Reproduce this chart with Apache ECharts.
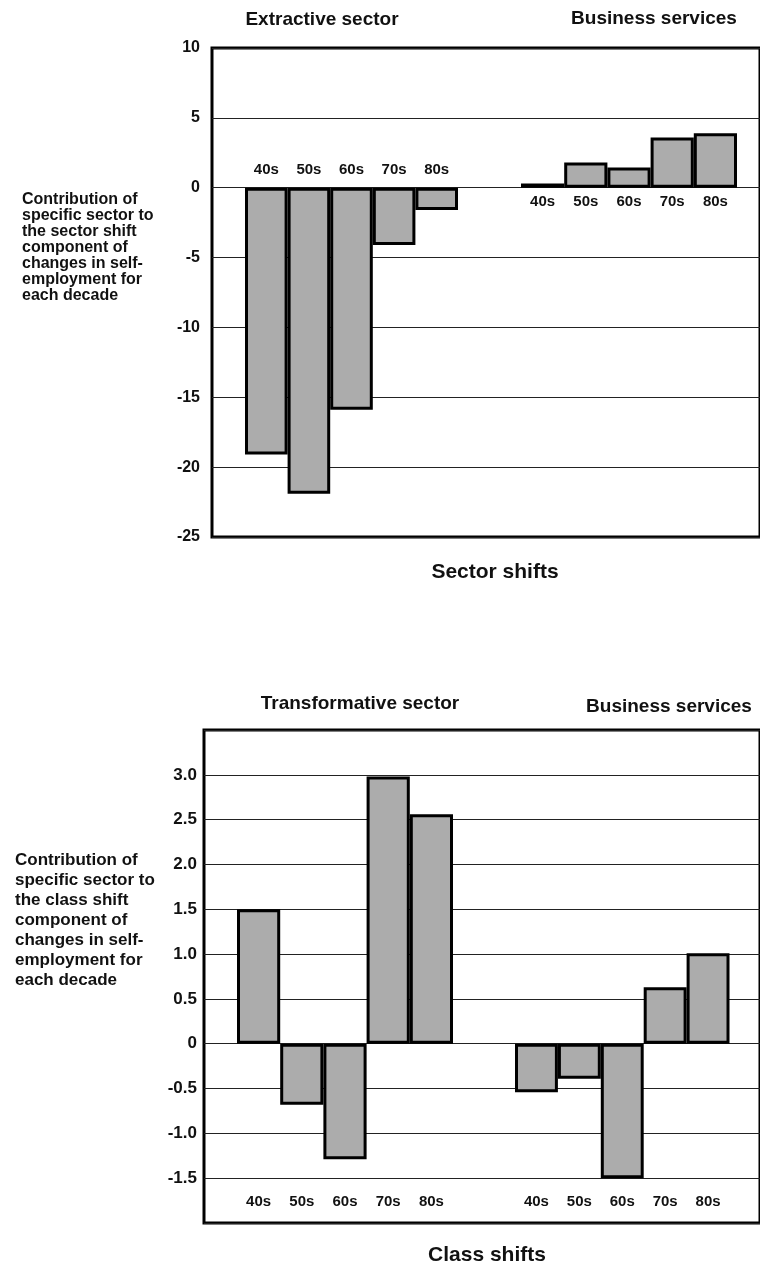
<!DOCTYPE html>
<html><head><meta charset="utf-8">
<script src="https://cdn.jsdelivr.net/npm/echarts@6/dist/echarts.min.js"></script>
<style>html,body{margin:0;padding:0;background:#fff}#c{width:760px;height:1265px}</style>
</head><body><div id="c"></div>
<script>
// ---- data ----
const decades = ['40s', '50s', '60s', '70s', '80s'];
const sectorExtractive = [-19.1, -21.9, -15.9, -4.1, -1.6];
const sectorBusiness = [0.3, 1.8, 1.45, 3.6, 3.9];
const classTransformative = [1.5, -0.68, -1.29, 2.98, 2.56];
const classBusiness = [-0.54, -0.39, -1.5, 0.63, 1.01];
const sectorMin = -25, sectorMax = 10, sectorStep = 5;
const classMin = -2, classMax = 3.5, classStep = 0.5;
const topTitles = ['Extractive sector', 'Business services'];
const bottomTitles = ['Transformative sector', 'Business services'];
const topYLabelText = ['Contribution of', 'specific sector to', 'the sector shift', 'component of', 'changes in self-', 'employment for', 'each decade'];
const bottomYLabelText = ['Contribution of', 'specific sector to', 'the class shift', 'component of', 'changes in self-', 'employment for', 'each decade'];

const FF = '"Liberation Sans", Arial, Helvetica, sans-serif';
const BAR_COLOR = '#acacac';

const chart = echarts.init(document.getElementById('c'), null, {renderer: 'canvas'});

// top panel geometry
const TOP_H = 489;
// distance (px) from grid top to the value-0 line, derived from the axis range
const zeroFromTop = TOP_H * sectorMax / (sectorMax - sectorMin);

function frameY(idx, min, max, step, fontSize, margin, fmt) {
  return {
    gridIndex: idx, type: 'value', min: min, max: max, interval: step,
    axisLine: {show: false}, axisTick: {show: false},
    axisLabel: {show: true, showMinLabel: true, showMaxLabel: true, margin: margin,
      fontFamily: FF, fontWeight: 'bold', fontSize: fontSize, color: '#111', formatter: fmt},
    splitLine: {show: true, lineStyle: {color: '#222', width: 1}}
  };
}
function hiddenY(idx, min, max) {
  return {gridIndex: idx, type: 'value', min: min, max: max, show: false, splitLine: {show: false}};
}
function catX(idx, pos, offset, inside, margin) {
  return {
    gridIndex: idx, type: 'category', data: decades, position: pos, offset: offset,
    axisLine: {show: false, onZero: false}, axisTick: {show: false},
    axisLabel: {inside: inside, margin: margin, fontFamily: FF, fontWeight: 'bold', fontSize: 15, color: '#111'},
    splitLine: {show: false}
  };
}
function barSeries(xi, data) {
  return {
    type: 'bar', xAxisIndex: xi, yAxisIndex: xi, data: data, barWidth: '100%',
    itemStyle: {color: BAR_COLOR, borderColor: '#000', borderWidth: 3},
    emphasis: {disabled: true}, animation: false
  };
}
function txt(text, x, y, size, align, vAlign, lh) {
  return {type: 'text', silent: true,
    style: {text: text, x: x, y: y, font: 'bold ' + size + 'px ' + FF, fill: '#111',
      textAlign: align, textVerticalAlign: vAlign, lineHeight: lh || size}};
}

const classFmt = function (v) {
  if (Math.abs(v - classMin) < 1e-9 || Math.abs(v - classMax) < 1e-9) return '';
  if (Math.abs(v) < 1e-9) return '0';
  return v.toFixed(1);
};

const option = {
  animation: false,
  textStyle: {fontFamily: FF},
  grid: [
    {left: 212, top: 48, width: 560, height: TOP_H, show: true, borderColor: '#000', borderWidth: 3, backgroundColor: 'transparent'},
    {left: 245, top: 48, width: 213, height: TOP_H},
    {left: 521, top: 48, width: 216, height: TOP_H},
    {left: 204, top: 730, width: 570, height: 493, show: true, borderColor: '#000', borderWidth: 3, backgroundColor: 'transparent'},
    {left: 237, top: 730, width: 216, height: 493},
    {left: 515, top: 730, width: 214.5, height: 493}
  ],
  xAxis: [
    {gridIndex: 0, type: 'value', min: 0, max: 1, show: false},
    catX(1, 'top', -zeroFromTop, false, 10),
    catX(2, 'bottom', -(TOP_H - zeroFromTop), false, 7),
    {gridIndex: 3, type: 'value', min: 0, max: 1, show: false},
    catX(4, 'bottom', 0, true, 14),
    catX(5, 'bottom', 0, true, 14)
  ],
  yAxis: [
    frameY(0, sectorMin, sectorMax, sectorStep, 16, 12, function (v) { return String(v); }),
    hiddenY(1, sectorMin, sectorMax),
    hiddenY(2, sectorMin, sectorMax),
    frameY(3, classMin, classMax, classStep, 17, 7, classFmt),
    hiddenY(4, classMin, classMax),
    hiddenY(5, classMin, classMax)
  ],
  series: [
    barSeries(1, sectorExtractive),
    barSeries(2, sectorBusiness),
    barSeries(4, classTransformative),
    barSeries(5, classBusiness)
  ],
  graphic: [
    txt(topTitles[0], 322, 20, 19, 'center', 'middle'),
    txt(topTitles[1], 654, 19, 19, 'center', 'middle'),
    txt('Sector shifts', 495, 572, 21, 'center', 'middle'),
    txt(topYLabelText.join('\n'), 22, 192, 16, 'left', 'top', 16),
    txt(bottomTitles[0], 360, 704, 19, 'center', 'middle'),
    txt(bottomTitles[1], 669, 707, 19, 'center', 'middle'),
    txt('Class shifts', 487, 1255, 21, 'center', 'middle'),
    txt(bottomYLabelText.join('\n'), 15, 850, 17, 'left', 'top', 20)
  ]
};
chart.setOption(option);
</script>
</body></html>
